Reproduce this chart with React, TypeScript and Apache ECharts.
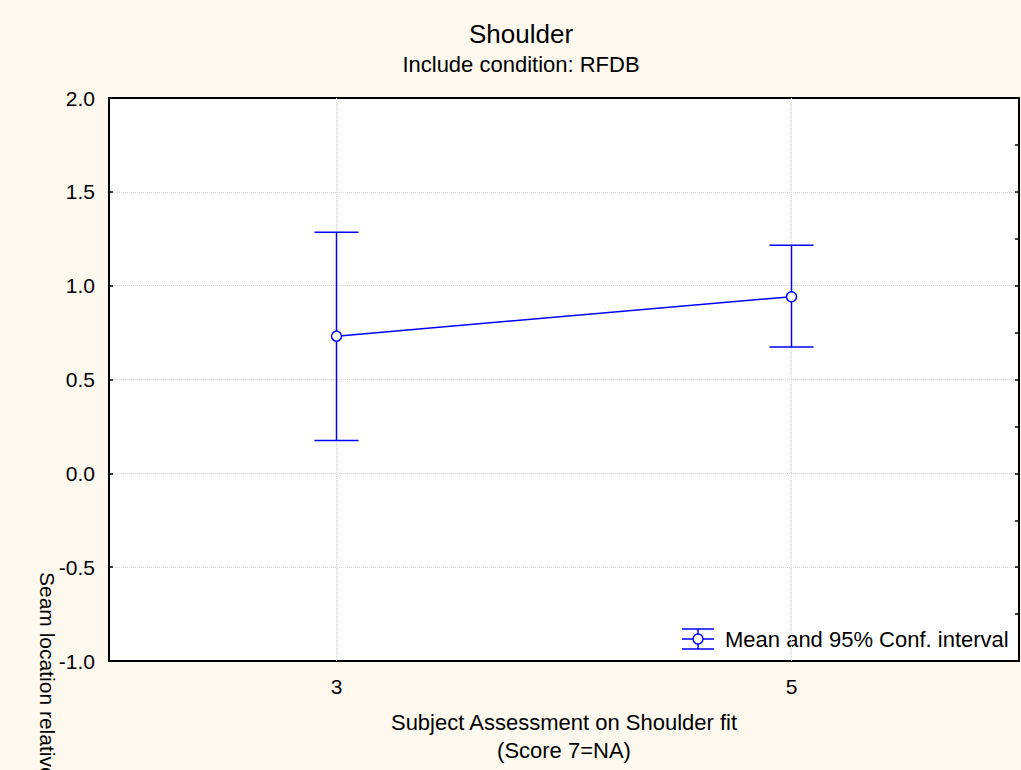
import React, { useEffect, useRef } from "react";
import * as echarts from "echarts";

const categories = ["3", "5"];
const means = [0.731, 0.941];
const upper = [1.285, 1.215];
const lower = [0.175, 0.673];
const yTicks = { min: -1, max: 2, interval: 0.5 };
const titleText = "Shoulder";
const subtitleText = "Include condition: RFDB";
const xName = "Subject Assessment on Shoulder fit\n(Score 7=NA)";
const yName = "Seam location relative";
const legendText = "Mean and 95% Conf. interval";

const FONT = "'Liberation Sans', Arial, sans-serif";
const BLUE = "#0000FF";
const BG = "#FDF9EE";
const FS = 21;
const FS2 = 22;

export default function App() {
  const ref = useRef<HTMLDivElement>(null);
  useEffect(() => {
    if (!ref.current) return;
    const chart = echarts.init(ref.current, null, { renderer: "svg" });
    const errData = categories.map((_, i) => [i, upper[i], lower[i]]);
    const lx = 698;
    const ly = 639;
    const gridLine = { color: "#d8d8d8", type: "dotted", width: 1 };
    chart.setOption({
      animation: false,
      backgroundColor: BG,
      textStyle: { fontFamily: FONT },
      grid: {
        left: 109,
        top: 98,
        right: 2,
        bottom: 109,
        show: true,
        backgroundColor: "#fff",
        borderWidth: 0,
      },
      xAxis: [
        {
          type: "category",
          data: categories,
          boundaryGap: true,
          position: "bottom",
          name: xName,
          nameLocation: "middle",
          nameGap: 47,
          nameTextStyle: { fontFamily: FONT, fontSize: FS2, color: "#000", lineHeight: 28 },
          axisLine: { onZero: false, lineStyle: { color: "#000", width: 2 } },
          axisTick: { inside: true, length: 4, alignWithLabel: true, lineStyle: { color: "#000", width: 1.5 } },
          axisLabel: { fontFamily: FONT, fontSize: FS, color: "#000", margin: 15 },
          splitLine: { show: false },
        },
        {
          type: "category",
          data: categories,
          boundaryGap: true,
          position: "top",
          axisLine: { onZero: false, lineStyle: { color: "#000", width: 2 } },
          axisTick: { inside: true, length: 4, alignWithLabel: true, lineStyle: { color: "#000", width: 1.5 } },
          axisLabel: { show: true, formatter: () => "" },
          splitLine: { show: false },
        },
      ],
      yAxis: [
        {
          type: "value",
          min: yTicks.min,
          max: yTicks.max,
          interval: yTicks.interval,
          position: "left",
          axisLine: { show: true, onZero: false, lineStyle: { color: "#000", width: 2 } },
          axisTick: { show: true, inside: true, length: 4, lineStyle: { color: "#000", width: 1.5 } },
          axisLabel: {
            fontFamily: FONT,
            fontSize: FS,
            color: "#000",
            margin: 14,
            formatter: (v: number) => v.toFixed(1),
          },
          splitLine: { show: true, lineStyle: gridLine },
        },
        {
          type: "value",
          min: yTicks.min,
          max: yTicks.max,
          interval: 0.25,
          position: "right",
          axisLine: { show: true, onZero: false, lineStyle: { color: "#000", width: 2 } },
          axisTick: { show: true, inside: true, length: 4, lineStyle: { color: "#000", width: 1.5 } },
          axisLabel: { show: false },
          splitLine: { show: false },
        },
      ],
      series: [
        {
          type: "custom",
          name: "ci",
          xAxisIndex: 0,
          yAxisIndex: 0,
          data: errData,
          z: 2,
          renderItem: (params: any, api: any) => {
            const idx = api.value(0);
            const hi = api.coord([idx, api.value(1)]);
            const lo = api.coord([idx, api.value(2)]);
            const hw = 22;
            const style = { stroke: BLUE, lineWidth: 1.5, fill: "none" };
            return {
              type: "group",
              children: [
                { type: "line", shape: { x1: hi[0], y1: hi[1], x2: lo[0], y2: lo[1] }, style },
                { type: "line", shape: { x1: hi[0] - hw, y1: hi[1], x2: hi[0] + hw, y2: hi[1] }, style },
                { type: "line", shape: { x1: lo[0] - hw, y1: lo[1], x2: lo[0] + hw, y2: lo[1] }, style },
              ],
            };
          },
        },
        {
          type: "line",
          name: legendText,
          xAxisIndex: 0,
          yAxisIndex: 0,
          data: means,
          z: 3,
          symbol: "circle",
          symbolSize: 10,
          itemStyle: { color: "#fff", borderColor: BLUE, borderWidth: 1.5 },
          lineStyle: { color: BLUE, width: 1.5 },
          markLine: {
            silent: true,
            symbol: "none",
            label: { show: false },
            lineStyle: gridLine,
            z: 1,
            data: categories.map((c) => ({ xAxis: c })),
          },
        },
      ],
      graphic: [
        {
          type: "text",
          x: 521,
          y: 34,
          style: { text: titleText, fontFamily: FONT, fontSize: 26, fill: "#000", align: "center", verticalAlign: "middle" },
        },
        {
          type: "text",
          x: 521,
          y: 64,
          style: { text: subtitleText, fontFamily: FONT, fontSize: FS2, fill: "#000", align: "center", verticalAlign: "middle" },
        },
        {
          type: "text",
          x: 47,
          y: 572,
          rotation: -Math.PI / 2,
          style: {
            text: yName,
            fontFamily: FONT,
            fontSize: FS,
            fill: "#000",
            align: "left",
            verticalAlign: "middle",
          },
        },
        {
          type: "group",
          children: [
            { type: "line", shape: { x1: lx - 16, y1: ly - 10, x2: lx + 16, y2: ly - 10 }, style: { stroke: BLUE, lineWidth: 1.5 } },
            { type: "line", shape: { x1: lx - 16, y1: ly + 10, x2: lx + 16, y2: ly + 10 }, style: { stroke: BLUE, lineWidth: 1.5 } },
            { type: "line", shape: { x1: lx - 16, y1: ly, x2: lx + 16, y2: ly }, style: { stroke: BLUE, lineWidth: 1.5 } },
            { type: "line", shape: { x1: lx, y1: ly - 10, x2: lx, y2: ly + 10 }, style: { stroke: BLUE, lineWidth: 1.5 } },
            { type: "circle", shape: { cx: lx, cy: ly, r: 5 }, style: { fill: "#fff", stroke: BLUE, lineWidth: 1.5 } },
            {
              type: "text",
              x: 725,
              y: ly,
              style: {
                text: legendText,
                fontFamily: FONT,
                fontSize: FS2,
                fill: "#000",
                align: "left",
                verticalAlign: "middle",
              },
            },
          ],
        },
      ],
    });
    return () => chart.dispose();
  }, []);
  return (
    <div
      ref={ref}
      style={{ position: "absolute", left: 0, top: 0, width: 1021, height: 770, background: BG }}
    />
  );
}
